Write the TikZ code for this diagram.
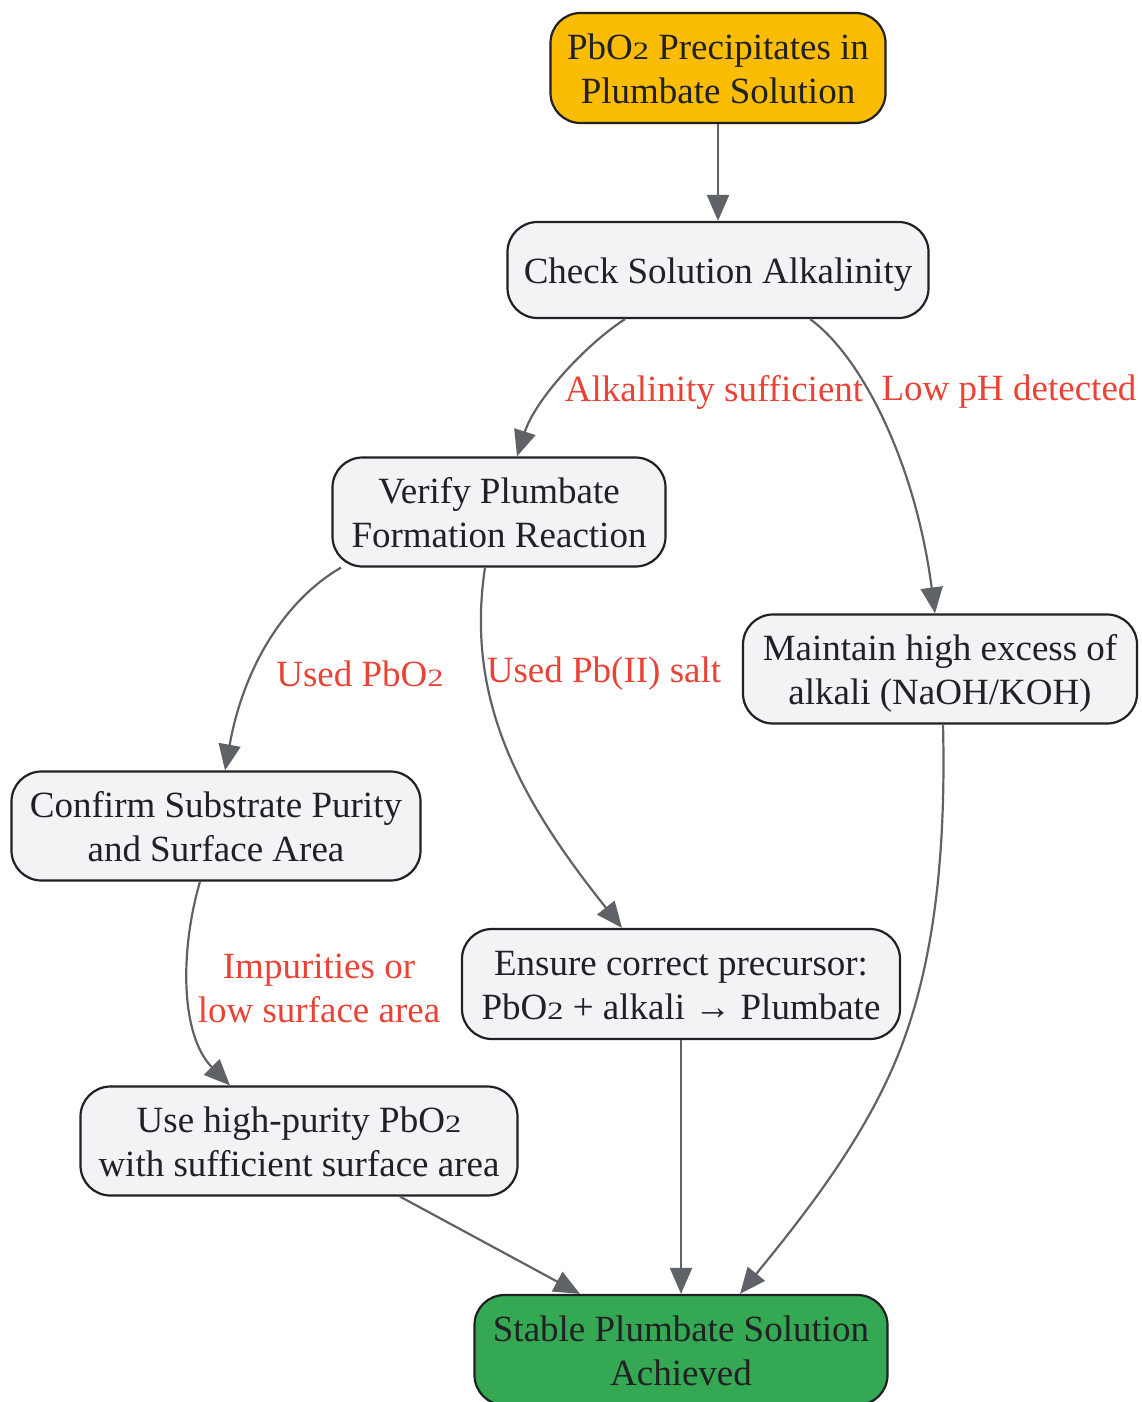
\documentclass[tikz,border=0pt]{standalone}
\usepackage{fontspec}
\usepackage{graphicx}
\setmainfont{Liberation Serif}
\usetikzlibrary{arrows.meta}
\definecolor{cyel}{HTML}{FBBC04}
\definecolor{cgrn}{HTML}{34A853}
\definecolor{cgry}{HTML}{F1F3F4}
\definecolor{cbrd}{HTML}{202124}
\definecolor{cedge}{HTML}{5F6368}
\definecolor{clbl}{HTML}{EA4335}
\newcommand\subtwo{{\fontsize{25}{25}\selectfont\scalebox{1.3}[1]{2}}}
\newcommand\txl[1]{\raisebox{-4.5pt}[\height][\depth]{\begin{tabular}{@{}c@{}}#1\end{tabular}}}
\tikzset{
  box/.style={draw=cbrd, line width=2.2pt, rounded corners=30pt, fill=cgry,
    text=cbrd, align=center, inner sep=0pt, font=\fontsize{37}{44}\selectfont},
  edge/.style={draw=cedge, line width=2.2pt, -{Triangle[length=26pt,width=22pt]}},
  lbl/.style={text=clbl, align=center, inner sep=0pt, font=\fontsize{37}{44}\selectfont}
}
\begin{document}
\begin{tikzpicture}[x=1pt,y=-1pt]
\useasboundingbox (0,0) rectangle (1142,1402);
\node[box, fill=cyel, minimum width=335pt, minimum height=110pt] (top) at (718,68) {\txl{PbO\subtwo{} Precipitates in\\Plumbate Solution}};
\node[box, minimum width=421pt, minimum height=96pt] (chk) at (718,270) {\txl{Check Solution Alkalinity}};
\node[box, minimum width=333pt, minimum height=109pt] (ver) at (499,512) {\txl{Verify Plumbate\\Formation Reaction}};
\node[box, minimum width=394pt, minimum height=109pt] (mnt) at (940,669) {\txl{Maintain high excess of\\alkali (NaOH/KOH)}};
\node[box, minimum width=409pt, minimum height=109pt] (cnf) at (216,826) {\txl{Confirm Substrate Purity\\and Surface Area}};
\node[box, minimum width=438pt, minimum height=110pt] (ens) at (681,984) {\txl{Ensure correct precursor:\\PbO\subtwo{} + alkali → Plumbate}};
\node[box, minimum width=437pt, minimum height=109pt] (use) at (299,1141) {\txl{Use high-purity PbO\subtwo\\with sufficient surface area}};
\node[box, fill=cgrn, minimum width=413pt, minimum height=110pt] (stb) at (681,1350) {\txl{Stable Plumbate Solution\\Achieved}};

\node[lbl] (l1) at (714,392) {Alkalinity sufficient};
\node[lbl] (l2) at (1009,392) {Low pH detected};
\node[lbl] (l3) at (360,674) {Used PbO\subtwo};
\node[lbl] (l4) at (604,674) {Used Pb(II) salt};
\node[lbl] (l5) at (319,988) {Impurities or\\low surface area};

\draw[edge] (top.south) -- (chk.north);
\draw[edge] ([xshift=-93pt]chk.south) .. controls (585,345) and (535,400) .. ([xshift=18pt]ver.north);
\draw[edge] ([xshift=92pt]chk.south) .. controls (860,355) and (915,460) .. ([xshift=-5pt]mnt.north);
\draw[edge] ([xshift=-158pt]ver.south) .. controls (290,597) and (245,660) .. ([xshift=9pt]cnf.north);
\draw[edge] ([xshift=-14pt]ver.south) .. controls (465,700) and (520,800) .. ([xshift=-59pt]ens.north);
\draw[edge] ([xshift=-16pt]cnf.south) .. controls (180,950) and (180,1035) .. ([xshift=-69pt]use.north);
\draw[edge] (ens.south) -- (stb.north);
\draw[edge] ([xshift=101pt]use.south) -- ([xshift=-101pt]stb.north);
\draw[edge] ([xshift=3pt]mnt.south) .. controls (946,850) and (935,960) .. (900,1050) .. controls (865,1140) and (800,1220) .. ([xshift=59pt]stb.north);
\end{tikzpicture}
\end{document}
